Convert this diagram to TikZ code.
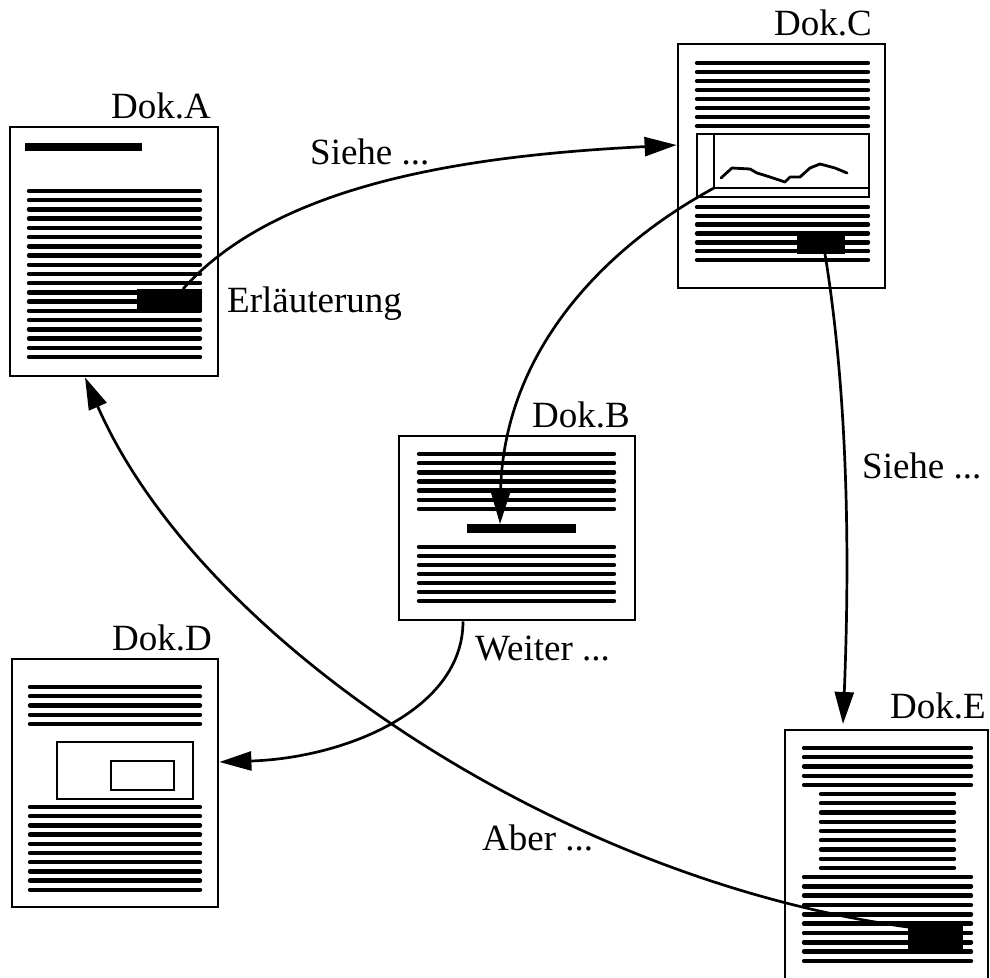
\documentclass[tikz,border=0pt]{standalone}
\usepackage{fontspec}
\setmainfont{Liberation Serif}
\usetikzlibrary{arrows.meta}
\tikzset{
  docbox/.style={draw, line width=2.9pt, inner sep=0pt, outer sep=0pt, rectangle},
  txtline/.style={line width=4.4pt, line cap=round},
  frame/.style={draw, line width=2.9pt},
  wave/.style={line width=2.8pt, line cap=round, line join=round},
  link/.style={line width=2.7pt, -{Triangle[length=32pt,width=19pt]}},
  lbl/.style={font=\fontsize{37}{40}\selectfont, inner sep=0pt},
}
\begin{document}
\begin{tikzpicture}[x=1pt,y=-1pt]
\useasboundingbox (0,0) rectangle (990,977);
\clip (0,0) rectangle (990,977);

% ---------- document frames ----------
\node[docbox, minimum width=208pt, minimum height=249pt] (docA) at (114,251.5) {};
\node[docbox, minimum width=207pt, minimum height=244pt] (docC) at (781.5,166) {};
\node[docbox, minimum width=236pt, minimum height=184pt] (docB) at (517,528) {};
\node[docbox, minimum width=206pt, minimum height=248pt] (docD) at (115,783) {};
\node[docbox, minimum width=203pt, minimum height=252pt] (docE) at (886.5,856) {};

% ---------- titles ----------
\node[lbl, anchor=base east] (tA) at (211,118) {Dok.A};
\node[lbl, anchor=base east] (tC) at (872,35) {Dok.C};
\node[lbl, anchor=base east] (tB) at (630,427) {Dok.B};
\node[lbl, anchor=base east] (tD) at (212,650) {Dok.D};
\node[lbl, anchor=base east] (tE) at (986,718) {Dok.E};

% ---------- Dok.A contents ----------
\fill (25,143) rectangle (142,151);
\foreach \i in {0,...,18}
  \draw[txtline] (29,{191+9.22*\i}) -- (200,{191+9.22*\i});
\fill (137,289) rectangle (202,312);

% ---------- Dok.C contents ----------
\foreach \i in {0,...,7}
  \draw[txtline] (697,{63+9*\i}) -- (868,{63+9*\i});
\draw[frame] (697,134) rectangle (869,197);
\draw[frame] (714,134) -- (714,188) -- (869,188);
\draw[wave] (721,178) -- (732,168) -- (750,169) -- (757,173) -- (770,177)
  -- (785,182) -- (790,177) -- (800,177) -- (810,168) -- (820,164)
  -- (835,168) -- (847,173);
\foreach \i in {0,...,6}
  \draw[txtline] (697,{207+8.83*\i}) -- (868,{207+8.83*\i});
\fill (797,233) rectangle (845,254);

% ---------- Dok.B contents ----------
\foreach \i in {0,...,6}
  \draw[txtline] (419,{454+9.17*\i}) -- (614,{454+9.17*\i});
\fill (467,524) rectangle (576,533);
\foreach \i in {0,...,6}
  \draw[txtline] (419,{547+9*\i}) -- (614,{547+9*\i});

% ---------- Dok.D contents ----------
\foreach \i in {0,...,4}
  \draw[txtline] (30,{687+9.25*\i}) -- (200,{687+9.25*\i});
\draw[frame] (57,742) rectangle (193,799);
\draw[frame] (111,761) rectangle (174,790);
\foreach \i in {0,...,9}
  \draw[txtline] (30,{807+9.2*\i}) -- (200,{807+9.2*\i});

% ---------- Dok.E contents ----------
\foreach \i in {0,...,4}
  \draw[txtline] (804,{748+9.25*\i}) -- (971,{748+9.25*\i});
\foreach \i in {0,...,8}
  \draw[txtline] (821,{794+9.25*\i}) -- (954,{794+9.25*\i});
\foreach \i in {0,...,9}
  \draw[txtline] (804,{877+9.33*\i}) -- (971,{877+9.33*\i});
\fill (908,922) rectangle (963,951);

% ---------- link end points ----------
\coordinate (aStart) at (183,289);
\coordinate (cIn)    at (676.6,145);
\coordinate (cFig)   at (714,188);
\coordinate (bBar)   at (500,524);
\coordinate (cBlk)   at (825,254);
\coordinate (eIn)    at (843,724);
\coordinate (bOut)   at (463,621.4);
\coordinate (dIn)    at (219.4,762);
\coordinate (eBlk)   at (908,927);
\coordinate (aIn)    at (85,377.4);

% ---------- links ----------
\draw[link] (aStart) .. controls (280,180) and (480,155) .. (cIn);
\draw[link] (cFig) .. controls (600,250) and (503,355) .. (bBar);
\draw[link] (cBlk) .. controls (852,420) and (848,600) .. (eIn);
\draw[link] (bOut) .. controls (463,710) and (345,758) .. (dIn);
\draw[link] (eBlk) .. controls (560,880) and (200,640) .. (aIn);

% ---------- link labels ----------
\node[lbl, anchor=base west] (lSieheA) at (310,164) {Siehe ...};
\node[lbl, anchor=base west] (lErl)    at (227,312) {Erläuterung};
\node[lbl, anchor=base west] (lSieheC) at (862,478) {Siehe ...};
\node[lbl, anchor=base west] (lWeiter) at (475,660) {Weiter ...};
\node[lbl, anchor=base west] (lAber)   at (482,850) {Aber ...};
\end{tikzpicture}
\end{document}
